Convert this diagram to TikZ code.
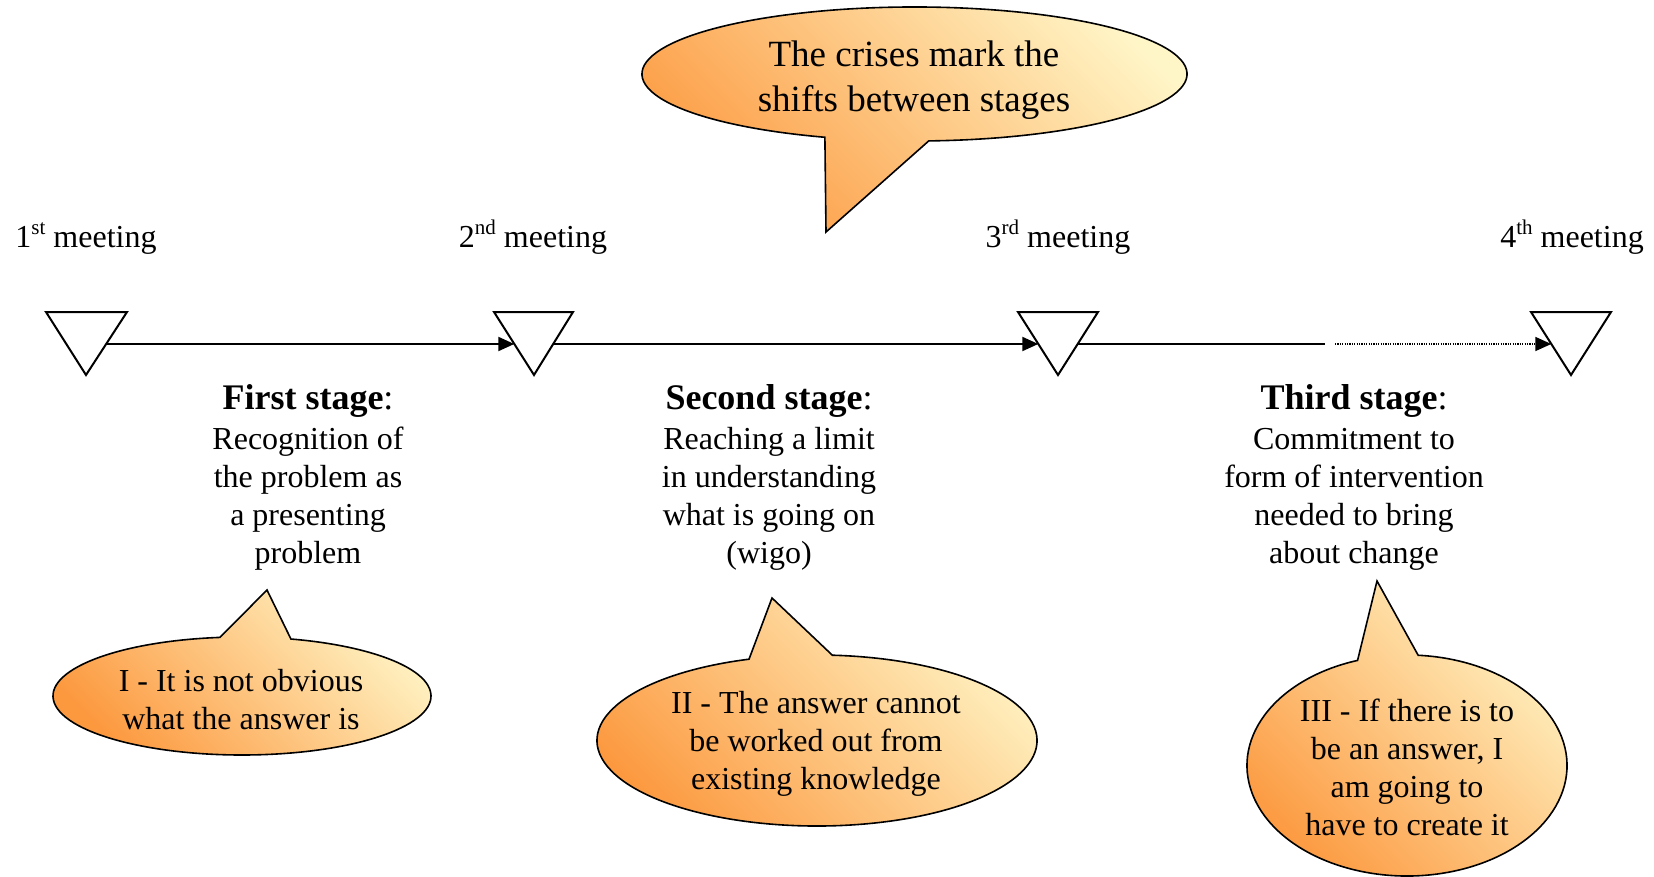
\documentclass[tikz,border=0pt]{standalone}
\usepackage{fontspec}
\setmainfont{Liberation Serif}
\usetikzlibrary{arrows.meta,calc}
\definecolor{bubOrange}{RGB}{252,152,62}
\definecolor{bubYellow}{RGB}{255,246,200}
\newcommand{\linestack}[1]{\begin{tabular}[t]{@{}c@{}}#1\end{tabular}}
\newcommand{\ordsup}[1]{\raisebox{0.42em}{\fontsize{10.5}{12}\selectfont #1}}
\begin{document}
\begin{tikzpicture}[x=0.5pt,y=-0.5pt,
  tri/.style={draw=black,line width=1pt,fill=white,line join=miter},
  conn/.style={line width=1pt,-{Triangle[length=8pt,width=7pt]}},
  solidseg/.style={line width=1pt},
  dotseg/.style={line width=0.8pt,dash pattern=on 0.6pt off 0.6pt,-{Triangle[length=8pt,width=7pt]}},
  bubble/.style={draw=black,line width=0.8pt,left color=bubOrange,right color=bubYellow,shading angle=135},
  bodytext/.style={font=\fontsize{16}{19}\selectfont,inner sep=0pt,anchor=base},
  stagetitle/.style={font=\fontsize{18}{21}\selectfont,inner sep=0pt,anchor=base},
  bigtext/.style={font=\fontsize{18.5}{22.5}\selectfont,inner sep=0pt,anchor=base}]
\useasboundingbox (0,0) rectangle (1654,877);

% ---- callout shapes ----
\coordinate (c0) at (914.5,74);
\draw[bubble] ($(c0)+(87:272.5 and 67)$) -- (826,232) -- ($(c0)+(109.2:272.5 and 67)$)
  arc[start angle=109.2,end angle=447,x radius=272.5,y radius=67] -- cycle;

\coordinate (c1) at (242,696);
\draw[bubble] ($(c1)+(285:189 and 59)$) -- (267,590) -- ($(c1)+(263.3:189 and 59)$)
  arc[start angle=263.3,end angle=-75,x radius=189,y radius=59] -- cycle;

\coordinate (c2) at (817,740.5);
\draw[bubble] ($(c2)+(274:220 and 85.5)$) -- (772,598) -- ($(c2)+(252:220 and 85.5)$)
  arc[start angle=252,end angle=-86,x radius=220,y radius=85.5] -- cycle;

\coordinate (c3) at (1407,765.5);
\draw[bubble] ($(c3)+(274:160 and 110.5)$) -- (1377,581) -- ($(c3)+(252:160 and 110.5)$)
  arc[start angle=252,end angle=-86,x radius=160,y radius=110.5] -- cycle;

% ---- meeting markers ----
\draw[tri] (46,312) -- (127,312) -- (86,375) -- cycle;
\draw[tri] (494,312) -- (573,312) -- (534,375) -- cycle;
\draw[tri] (1018,312) -- (1098,312) -- (1058,375) -- cycle;
\draw[tri] (1531,312) -- (1611,312) -- (1571,375) -- cycle;

\coordinate (m1r) at (106.2,344);
\coordinate (m2l) at (514.3,344);
\coordinate (m2r) at (553.2,344);
\coordinate (m3l) at (1038.3,344);
\coordinate (m3r) at (1077.7,344);
\coordinate (gapa) at (1325,344);
\coordinate (gapb) at (1335,344);
\coordinate (m4l) at (1551.3,344);

\draw[conn] (m1r) -- (m2l);
\draw[conn] (m2r) -- (m3l);
\draw[solidseg] (m3r) -- (gapa);
\draw[dotseg] (gapb) -- (m4l);

% ---- meeting labels ----
\node[bodytext] (lab1) at (86,247.5) {1\ordsup{st} meeting};
\node[bodytext] (lab2) at (533,247.5) {2\ordsup{nd} meeting};
\node[bodytext] (lab3) at (1058,247.5) {3\ordsup{rd} meeting};
\node[bodytext] (lab4) at (1572,247.5) {4\ordsup{th} meeting};

% ---- stage texts ----
\node[stagetitle] (st1) at (308,409) {\textbf{First stage}:};
\node[stagetitle] (st2) at (769,409) {\textbf{Second stage}:};
\node[stagetitle] (st3) at (1354,409) {\textbf{Third stage}:};
\node[bodytext] (sb1) at (308,449.5) {\linestack{Recognition of\\the problem as\\a presenting\\problem}};
\node[bodytext] (sb2) at (769,449.5) {\linestack{Reaching a limit\\in understanding\\what is going on\\(wigo)}};
\node[bodytext] (sb3) at (1354,449.5) {\linestack{Commitment to\\form of intervention\\needed to bring\\about change}};

% ---- callout texts ----
\node[bigtext] (t0) at (914,67) {\linestack{The crises mark the\\shifts between stages}};
\node[bodytext] (t1) at (241,691.5) {\linestack{I - It is not obvious\\what the answer is}};
\node[bodytext] (t2) at (816,713.5) {\linestack{II - The answer cannot\\be worked out from\\existing knowledge}};
\node[bodytext] (t3) at (1407,721.5) {\linestack{III - If there is to\\be an answer, I\\am going to\\have to create it}};
\end{tikzpicture}
\end{document}
